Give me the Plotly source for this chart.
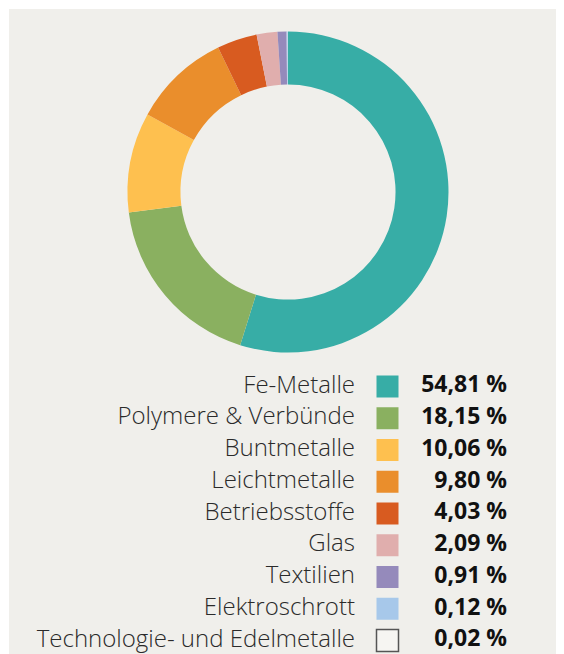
import plotly.graph_objects as go

categories = ["Fe-Metalle", "Polymere & Verbünde", "Buntmetalle", "Leichtmetalle",
              "Betriebsstoffe", "Glas", "Textilien", "Elektroschrott",
              "Technologie- und Edelmetalle"]
values = [54.81, 18.15, 10.06, 9.80, 4.03, 2.09, 0.91, 0.12, 0.02]
value_labels = ["54,81 %", "18,15 %", "10,06 %", "9,80 %", "4,03 %", "2,09 %",
                "0,91 %", "0,12 %", "0,02 %"]
colors = ["#37ADA6", "#8AB060", "#FEC04F", "#EA8E2C", "#D85B20", "#E0AEAD",
          "#958ABB", "#A7C8EA", "#F6F5F2"]

OFF = 8  # page body margin
W, H = 564 - OFF, 654 - OFF
BG = "#F0EFEB"
FONT = "Open Sans"
TXT = "#2a2a2a"

fig = go.Figure()

cx, cy, r = 288 - OFF, 192 - OFF, 160.5
fig.add_trace(go.Pie(
    labels=categories, values=values, sort=False, direction="clockwise",
    rotation=0, hole=0.67,
    marker=dict(colors=colors, line=dict(width=0)),
    textinfo="none", hoverinfo="label+value", showlegend=False,
    domain=dict(x=[(cx - r) / W, (cx + r) / W], y=[1 - (cy + r) / H, 1 - (cy - r) / H]),
))

row0, pitch = 386.5 - OFF, 31.75
ys = [row0 + i * pitch for i in range(len(categories))]
sq_x = 387.5 - OFF
label_x = 355 - OFF
pct_x = 507 - OFF

fig.add_trace(go.Scatter(
    x=[label_x] * len(categories), y=ys, mode="text", text=categories,
    textposition="middle left",
    textfont=dict(family=FONT, size=24, color=TXT, weight=300),
    showlegend=False, hoverinfo="skip",
))
fig.add_trace(go.Scatter(
    x=[sq_x] * len(categories), y=ys, mode="markers",
    marker=dict(symbol="square", size=22, color=colors,
                line=dict(width=[0] * (len(categories) - 1) + [1.5], color="#555555")),
    showlegend=False, hoverinfo="skip",
))
fig.add_trace(go.Scatter(
    x=[pct_x] * len(categories), y=ys, mode="text",
    text=["<b>" + t + "</b>" for t in value_labels],
    textposition="middle left", textfont=dict(family=FONT, size=23, color="#111111"),
    showlegend=False, hoverinfo="skip",
))

fig.update_layout(
    width=W, height=H, margin=dict(l=0, r=0, t=0, b=0),
    paper_bgcolor=BG, plot_bgcolor="rgba(0,0,0,0)",
    xaxis=dict(range=[0, W], visible=False, fixedrange=True),
    yaxis=dict(range=[H, 0], visible=False, fixedrange=True),
    shapes=[
        dict(type="rect", xref="paper", yref="paper", x0=0, x1=1, y0=1 - 1 / H, y1=1,
             fillcolor="white", line=dict(width=0), layer="below"),
        dict(type="rect", xref="paper", yref="paper", x0=0, x1=1 / W, y0=0, y1=1,
             fillcolor="white", line=dict(width=0), layer="below"),
    ],
)

fig.write_html("out.html", post_script="document.body.style.overflow='hidden';")
